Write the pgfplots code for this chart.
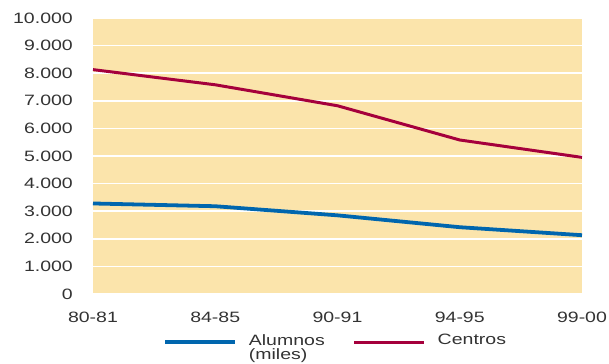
\documentclass[border=0pt]{standalone}
\usepackage{pgfplots}
\pgfplotsset{compat=1.18}
\usepackage{graphicx}
\usepackage{fontspec}
\setmainfont{Liberation Sans}
\definecolor{bgc}{HTML}{FBE4AB}
\definecolor{blu}{HTML}{0066AE}
\definecolor{redc}{HTML}{A5003C}
\definecolor{txt}{HTML}{333333}
\newcommand{\wtx}[1]{\scalebox{1.3}[1]{#1}}
\begin{document}
\fontsize{15bp}{17bp}\selectfont
\begin{tikzpicture}
\useasboundingbox (-93bp,-70bp) rectangle (516bp,294bp);
\begin{axis}[
  scale only axis, width=489bp, height=276bp,
  xmin=0, xmax=4, ymin=0, ymax=10000,
  xtick={0,1,2,3,4},
  xticklabels={\wtx{80-81},\wtx{84-85},\wtx{90-91},\wtx{94-95},\wtx{99-00}},
  ytick={0,1000,...,10000},
  scaled y ticks=false,
  yticklabel={\wtx{\pgfmathprintnumber{\tick}}},
  /pgf/number format/assume math mode=true,
  /pgf/number format/1000 sep={.},
  /pgf/number format/fixed,
  axis line style={draw=none},
  major tick length=0pt,
  tick label style={text=txt, font=\fontsize{15bp}{17bp}\selectfont},
  yticklabel shift=15bp,
  xticklabel shift=13bp,
  axis background/.style={fill=bgc},
  ymajorgrids, grid style={white, line width=1.5pt},
  clip=false,
  legend columns=2,
  legend style={at={(0.143,-0.138)}, anchor=north west, draw=none, fill=none, inner sep=0pt,
    font=\fontsize{15bp}{15bp}\selectfont, text=txt,
    /tikz/every odd column/.append style={column sep=10bp},
    /tikz/every even column/.append style={column sep=26bp}},
  legend cell align=left,
  legend image code/.code={\draw[#1] (0bp,0bp) -- (70bp,0bp);},
]
\addplot[blu, line width=3.8pt] coordinates {(0,3280) (1,3180) (2,2850) (3,2420) (4,2130)};
\addlegendentry{\raisebox{2.5bp}{\begin{tabular}[t]{@{}l@{}}\wtx{Alumnos}\\[-1.5bp]\wtx{(miles)}\end{tabular}}}
\addplot[redc, line width=3pt] coordinates {(0,8130) (1,7580) (2,6820) (3,5580) (4,4950)};
\addlegendentry{\raisebox{2.5bp}{\wtx{Centros}}}
\end{axis}
\end{tikzpicture}
\end{document}
